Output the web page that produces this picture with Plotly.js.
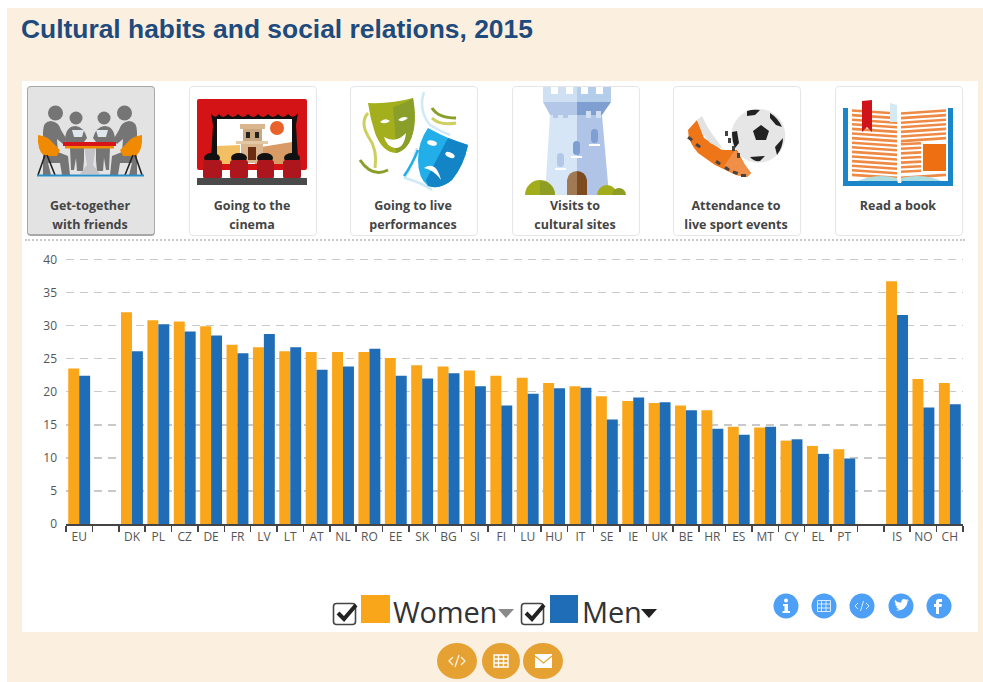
<!DOCTYPE html>
<html>
<head>
<meta charset="utf-8">
<script src="https://cdn.plot.ly/plotly-3.0.1.min.js"></script>
<style>
html,body{margin:0;padding:0;background:#fff;width:983px;height:682px;overflow:hidden}
#bg{position:absolute;left:7px;top:8px;width:976px;height:674px;background:#FBF0E0}
#panel{position:absolute;left:22px;top:81px;width:956px;height:551px;background:#fff}
#chart{position:absolute;left:0;top:0;width:983px;height:682px}
.tile{position:absolute;top:86px;width:126px;height:148px;border:1px solid #e6e6ea;border-radius:4px;background:#fff;box-sizing:content-box}
.tile.on{background:#e3e3e3;border-color:#a8a8a8;border-bottom-width:2px;height:147px}
.tile span{position:absolute;left:-1px;right:1px;top:109px;text-align:center;font:700 12.5px/19px "Open Sans",sans-serif;color:#444}
#dots{position:absolute;left:25px;top:239px;width:940px;border-top:2px dotted #c9c9c9}
#art{position:absolute;left:0;top:0;width:983px;height:682px;pointer-events:none}
.lg{position:absolute;font:29px/32px "Open Sans",sans-serif;color:#333;letter-spacing:-.2px}
</style>
</head>
<body>
<div id="bg"></div>
<div id="panel"></div>
<div id="chart"></div>
<div id="tiles"></div>
<div id="dots"></div>
<div class="lg" style="left:393px;top:596px">Women</div>
<div class="lg" style="left:582px;top:596px">Men</div>
<svg id="art" viewBox="0 0 983 682" xmlns="http://www.w3.org/2000/svg">
<!-- friends -->
<g id="half">
<circle cx="55.5" cy="113" r="7.5" fill="#757575"/>
<path d="M43 132 Q43 121 51 121 Q59 122 61 130 L67 140 L63 144 L57 139 L58 152 L68 156 L70 175 L62 175 L60 163 L48 163 L51 175 L43 175Z" fill="#757575"/>
<path d="M38 135 Q48 136 53 143 L60 150 L57 156 L44 156 Q37 150 38 135Z" fill="#F08A00"/>
<path d="M45 155 L38 175 M47 155 L55 175" stroke="#222" stroke-width="1.6" fill="none"/>
<circle cx="76" cy="118" r="6.5" fill="#757575"/>
<path d="M65 139 Q66 126 76 126 Q84 127 87 138 L84 142 L84 160 L83 171 L77 171 L76 158 L74 170 L71 170 L70 148 L66 146Z" fill="#757575"/>
<path d="M72 130 H84 L82 137 H74Z" fill="#dfe6ec"/>
</g>
<use href="#half" transform="translate(180,0) scale(-1,1)"/>
<path d="M84 146 H96 L93 165 L100 174 H80 L87 165Z" fill="#c3c3c8"/>
<rect x="65" y="146" width="49" height="2.500" fill="#F08A00"/>
<rect x="63" y="142" width="53" height="4" fill="#D7141A"/>
<rect x="37" y="174.500" width="107" height="2" fill="#2A8FC9"/>
<!-- cinema -->
<rect x="197" y="99" width="110" height="71" rx="2" fill="#D41317"/>
<path d="M211 113 Q215 120 219 114 Q223 120 228 114 Q233 120 238 114 Q243 120 248 114 Q253 120 258 114 Q263 120 268 114 Q273 120 278 114 Q283 120 288 114 Q293 120 298 113 L296 125 L298 160 H211 L213 125Z" fill="#111"/>
<rect x="217" y="119" width="75" height="45" fill="#fff"/>
<path d="M217 164 V146 L240 145 V164Z" fill="#F2C063"/><path d="M255 148 L292 142 V164 H255Z" fill="#D89B65"/>
<circle cx="277" cy="128" r="7" fill="#E9622A"/>
<rect x="240" y="124" width="25" height="5" fill="#D9B68D"/><rect x="243" y="129" width="19" height="12" fill="#C9A77F"/><rect x="246" y="132" width="4" height="6" fill="#222"/><rect x="255" y="132" width="4" height="6" fill="#222"/>
<rect x="236" y="141" width="32" height="3" fill="#E2C8A4"/><rect x="241" y="144" width="22" height="19" fill="#D9B68D"/><rect x="248" y="147" width="8" height="13" fill="#6b2d12"/>
<g fill="#111"><ellipse cx="212" cy="158" rx="8" ry="5"/><ellipse cx="239" cy="158" rx="8" ry="5"/><ellipse cx="265" cy="158" rx="8" ry="5"/><ellipse cx="292" cy="158" rx="8" ry="5"/></g>
<g fill="#AD161D"><rect x="203" y="160" width="19" height="19" rx="3"/><rect x="230" y="160" width="18" height="19" rx="3"/><rect x="257" y="160" width="17" height="19" rx="3"/><rect x="283" y="160" width="18" height="19" rx="3"/></g>
<rect x="222" y="170" width="8" height="8" fill="#fff"/><rect x="248" y="170" width="9" height="8" fill="#fff"/><rect x="274" y="170" width="9" height="8" fill="#fff"/>
<rect x="197" y="178" width="110" height="7" fill="#4a4a4a"/>
<!-- masks -->
<path d="M424 92 Q418 110 430 125 Q442 132 450 135 M432 190 Q420 182 405 178 Q412 165 417 148" stroke="#CFE9F7" stroke-width="2.500" fill="none"/>
<path d="M368 113 Q360 122 368 136 Q378 150 375 168 M432 118 Q440 126 456 123" stroke="#CDCF5E" stroke-width="3" fill="none"/>
<path d="M360 160 Q372 178 388 170 M432 108 Q438 118 456 118" stroke="#8A9E2A" stroke-width="3" fill="none"/>
<path d="M368 103 Q392 104 413 98 Q416 115 414 128 Q410 150 396 153 Q382 152 375 133 Q370 118 368 103Z" fill="#A3AF1D"/>
<path d="M393 107 Q404 104 413 98 Q416 115 414 128 Q410 150 396 153 L395 130Z" fill="#8A9E2A"/>
<path d="M380 122 Q385 117 390 121 Q385 125 380 122Z M398 120 Q403 115 408 118 Q403 123 398 120Z" fill="#fff"/>
<path d="M384 137 Q396 144 406 133 Q404 149 395 148 Q387 147 384 137Z" fill="#fff"/>
<path d="M428 128 Q450 140 468 145 Q464 165 452 180 Q440 190 428 186 Q418 178 418 160 Q418 142 428 128Z" fill="#22AEE8"/>
<path d="M448 138 L468 145 Q464 165 452 180 Q440 190 428 186 L426 180Z" fill="#1384C6"/>
<ellipse cx="432" cy="143" rx="5" ry="2.500" fill="#fff" transform="rotate(15 432 143)"/><ellipse cx="450" cy="155" rx="5" ry="2.500" fill="#fff" transform="rotate(25 450 155)"/>
<path d="M424 168 Q436 160 441 180 Q434 170 424 168Z" fill="#fff"/>
<path d="M418 150 Q412 165 404 176" stroke="#22AEE8" stroke-width="2.500" fill="none"/>
<!-- tower -->
<path d="M543 87 H577 V102 H543Z" fill="#CFE0F3"/><path d="M577 87 H611 V102 H577Z" fill="#B4CDEA"/>
<g fill="#fff"><rect x="551" y="87" width="7" height="7"/><rect x="566" y="87" width="7" height="7"/><rect x="581" y="87" width="7" height="7"/><rect x="596" y="87" width="7" height="7"/></g>
<path d="M543 102 H577 V115 H550Z" fill="#B3C7E8"/><path d="M577 102 H611 L602 115 H577Z" fill="#7F9FD2"/>
<path d="M550 115 H577 V195 H545Z" fill="#D7E6F6"/><path d="M577 115 H602 L609 195 H577Z" fill="#B0C4E8"/>
<g fill="#B3C7E8"><rect x="553" y="111" width="5" height="7"/><rect x="563" y="111" width="5" height="7"/></g><g fill="#CFE0F3"><rect x="586" y="111" width="5" height="7"/><rect x="596" y="111" width="5" height="7"/></g>
<rect x="591" y="129" width="7" height="14" rx="3.500" fill="#7F9FD2"/><rect x="573" y="141" width="7" height="14" rx="3.500" fill="#7F9FD2"/><rect x="557" y="153" width="7" height="14" rx="3.500" fill="#B3C7E8"/>
<g fill="#fff"><rect x="589" y="144" width="11" height="2"/><rect x="571" y="156" width="11" height="2"/><rect x="555" y="168" width="11" height="2"/></g>
<path d="M567 195 V180 A10 10 0 0 1 577 171 V195Z" fill="#A07A55"/><path d="M577 195 V171 A10 10 0 0 1 587 180 V195Z" fill="#7E4A20"/>
<path d="M525 195 A14 14 0 0 1 555 195Z" fill="#A3AD1C"/><path d="M540 181 A14 14 0 0 1 555 195 H540Z" fill="#8E9E25"/>
<path d="M597 195 A10 10 0 0 1 617 195Z" fill="#A3AD1C"/><path d="M612 195 A6 6 0 0 1 626 195Z" fill="#8E9E25"/>
<!-- boot and ball -->
<circle cx="758.3" cy="135.700" r="27" fill="#E6E6E6"/>
<path d="M761 125 L769 131 L766 140 L756 140 L753 131Z" fill="#222"/>
<path d="M747 111 Q753 109 760 110 L755 115 L747 116Z M770 113 Q778 118 782 127 L776 125 L770 118Z M783 138 Q783 147 777 155 L775 147Z M750 157 L765 156 L760 161 Q754 162 750 157Z" fill="#222"/>
<path d="M732 132 L737 131 L739 143 L735 148 Q732 141 732 132Z" fill="#222"/>
<path d="M688 130 L697 120 L704 138 L722 150 L737 150 L745 165 L751 173 L747 177 L736 175 L715 165 L698 153 Q688 142 688 130Z" fill="#EE7518"/>
<path d="M735 150 L745 165 L751 173 L747 177 L736 175 L724 166Z" fill="#F08F47"/>
<path d="M697 120 L702 116 L708 128 L723 149 L710 143 L703 134Z" fill="#E2E2E2"/>
<g fill="#444"><rect x="688" y="137" width="5" height="3" transform="rotate(35 690 138)"/><rect x="696" y="144" width="5" height="3" transform="rotate(35 698 145)"/><rect x="716" y="161" width="5" height="3" transform="rotate(35 718 162)"/><rect x="725" y="167" width="5" height="3" transform="rotate(35 727 168)"/><rect x="733" y="171" width="5" height="3" transform="rotate(20 735 172)"/><rect x="741" y="174" width="5" height="3"/><rect x="725" y="131" width="3" height="5"/><rect x="728" y="138" width="3" height="5"/><rect x="732" y="146" width="3" height="5"/><rect x="737" y="153" width="3" height="5"/></g>
<!-- book -->
<g id="book"></g>
<path d="M853 183 Q875 172 897 178 L898 183Z M901 183 L901 178 Q925 172 946 183Z" fill="#AEDDE0"/>
<path d="M843 108 H848 V181 H897 L898 183 H901 L902 181 H948 V108 H953 V186 H843Z" fill="#1A85C8"/>
<path d="M890 103 L897 105 V122 H890Z" fill="#D4E9F1"/>
<rect x="923" y="144" width="23" height="27" fill="#EE6F12"/>
<path d="M862 101 L872 100 V132 L867 127 L862 132Z" fill="#D0121B"/>
<!-- legend -->
<g fill="none" stroke="#444" stroke-width="1.600">
<rect x="333.500" y="603.500" width="22" height="21" rx="3"/><rect x="521.500" y="603.500" width="22" height="21" rx="3"/></g>
<path d="M338 613 L344 619 L356 605" fill="none" stroke="#222" stroke-width="4"/>
<path d="M526 613 L532 619 L544 605" fill="none" stroke="#222" stroke-width="4"/>
<rect x="361" y="595" width="29" height="28" fill="#FAA61A"/>
<rect x="550" y="595" width="28" height="28" fill="#1F6DB7"/>
<path d="M498 609 H514 L506 618Z" fill="#8a8a8a"/>
<path d="M641 609 H657 L649 618Z" fill="#222"/>
<!-- social -->
<g fill="#4DA0F5"><ellipse cx="786" cy="606" rx="12.500" ry="12.500"/><ellipse cx="824" cy="606" rx="12.500" ry="12.500"/><ellipse cx="862" cy="606" rx="12.500" ry="12.500"/><ellipse cx="901" cy="606" rx="12.500" ry="12.500"/><ellipse cx="939" cy="606" rx="12.500" ry="12.500"/></g>
<g fill="#fff"><circle cx="786" cy="600.500" r="2"/><path d="M783 604 H788 V611 H790 V613 H782.500 V611 H784.500 V606 H783Z"/>
<path d="M936 614 V607 H934 V604 H936 V602 Q936 599 939 599 H942 V602 H940 Q939 602 939 603 V604 H942 L941.500 607 H939 V614Z"/>
<path transform="translate(901 605) scale(.8) translate(-901 -605)" d="M893 611 Q899 613 904 610 Q909 606 909 601 L911 599 L908.500 599.500 L910 597.500 L907.500 598.500 Q904 596 902 599 Q901 600 901.500 602 Q896 602 893.500 598 Q892 601 895 604 L893.500 603.500 Q894 606.500 897 607.500 L895 607.500 Q896 610 899 610 Q896 612 893 611Z"/></g>
<g fill="none" stroke="#D8EAFE" stroke-width="1"><path d="M817.500 600.500 H830.500 V611.500 H817.500Z M817.500 604 H830.500 M817.500 608 H830.500 M821.500 600.500 V611.500 M826 600.500 V611.500"/>
<path d="M858 603 L855 606 L858 609 M866 603 L869 606 L866 609 M863.500 601 L860.500 611"/></g>
<!-- bottom buttons -->
<g fill="#E5A233"><ellipse cx="457" cy="661" rx="20" ry="18"/><ellipse cx="501" cy="661" rx="19" ry="18"/><ellipse cx="543" cy="661" rx="20" ry="18"/></g>
<path d="M453 657 L449 661 L453 665 M461 657 L465 661 L461 665 M459 655 L455 667" fill="none" stroke="#fff" stroke-opacity=".85" stroke-width="1.300"/>
<path d="M494 655 H508 V667 H494Z M494 659 H508 M494 663 H508 M498.500 655 V667 M503.500 655 V667" fill="none" stroke="#fff" stroke-width="1.400"/>
<path d="M535 654 H552 V668 H535Z" fill="#fff"/><path d="M535 656 L543.500 663 L552 656" fill="none" stroke="#E5A233" stroke-width="1.200"/>
</svg>
<script>
var categories = ["EU"," ","DK","PL","CZ","DE","FR","LV","LT","AT","NL","RO","EE","SK","BG","SI","FI","LU","HU","IT","SE","IE","UK","BE","HR","ES","MT","CY","EL","PT","  ","IS","NO","CH"];
var women = [23.5,null,32.0,30.8,30.6,29.9,27.1,26.7,26.1,26.0,26.0,26.0,25.1,24.0,23.8,23.2,22.4,22.1,21.3,20.8,19.3,18.6,18.3,17.9,17.2,14.7,14.6,12.6,11.8,11.3,null,36.7,21.9,21.3];
var men = [22.4,null,26.1,30.2,29.1,28.5,25.8,28.7,26.7,23.3,23.8,26.5,22.4,22.0,22.8,20.8,17.9,19.7,20.5,20.6,15.8,19.1,18.4,17.2,14.4,13.5,14.7,12.8,10.6,9.9,null,31.6,17.6,18.1];
var yTicks = [0,5,10,15,20,25,30,35,40];
var tileLabels = [["Get-together","with friends"],["Going to the","cinema"],["Going to live","performances"],["Visits to","cultural sites"],["Attendance to","live sport events"],["Read a book"]];
var tileLefts = [27,189,350,512,673,835];

document.getElementById('tiles').innerHTML = tileLabels.map(function(l,i){
  return '<div class="tile'+(i===0?' on':'')+'" style="left:'+tileLefts[i]+'px"><span>'+l.join('<br>')+'</span></div>';
}).join('');

// book page lines (decoration)
var b='';
[[852,897,1],[901,946,-1]].forEach(function(p){
  for(var y=112;y<178;y+=4.6){
    if(p[2]<0 && y>142 && y<172){ b+='<line x1="901" x2="921" y1="'+y+'" y2="'+(y-1)+'"/>'; continue; }
    var d=p[2]*3;
    b+='<line x1="'+p[0]+'" x2="'+p[1]+'" y1="'+(y-d/2)+'" y2="'+(y+d/2)+'"/>';
  }
});
document.getElementById('book').setAttribute('stroke','#EE8A45');
document.getElementById('book').setAttribute('stroke-width','2.6');
document.getElementById('book').innerHTML=b;

var traces = [
 {type:'bar',name:'Women',x:categories,y:women,marker:{color:'#FAA61A'}},
 {type:'bar',name:'Men',x:categories,y:men,marker:{color:'#1F6DB7'}}
];
var layout = {
 width:983,height:682,
 paper_bgcolor:'rgba(0,0,0,0)',plot_bgcolor:'rgba(0,0,0,0)',
 showlegend:false,barmode:'group',bargap:0.17,bargroupgap:0,
 margin:{l:66,r:20,t:258,b:158,pad:0},
 title:{text:'Cultural habits and social relations, 2015',x:21/983,xanchor:'left',xref:'container',y:1-29/682,yanchor:'middle',yref:'container',
        font:{family:'"Liberation Sans",Arial,sans-serif',size:26.4,color:'#1F4A7C',weight:700}},
 xaxis:{type:'category',categoryorder:'array',categoryarray:categories,tickson:'boundaries',dtick:1,tickangle:0,ticks:'outside',ticklen:6,tickwidth:1.5,tickcolor:'#444',
        showline:true,linecolor:'#444',linewidth:2,showgrid:false,fixedrange:true,ticklabelstandoff:1,
        tickfont:{family:'"Open Sans",sans-serif',size:12,color:'#555'}},
 yaxis:{range:[0,40.2],tickvals:yTicks,ticktext:yTicks.map(String),ticks:'',showline:false,zeroline:false,gridcolor:'#c9c9c9',gridwidth:1.5,griddash:'8px,6px',
        fixedrange:true,ticklabelstandoff:8,tickfont:{family:'"Open Sans",sans-serif',size:12,color:'#555'}}
};
Plotly.newPlot('chart',traces,layout,{displayModeBar:false,staticPlot:true});
</script>
</body>
</html>
